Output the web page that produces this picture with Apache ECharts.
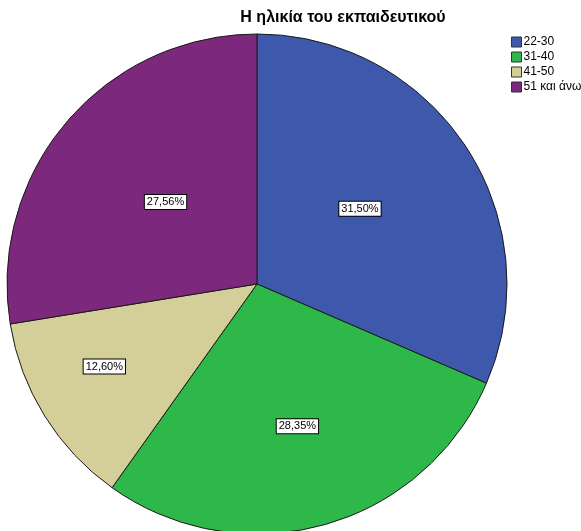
<!DOCTYPE html>
<html>
<head>
<meta charset="utf-8">
<script src="https://cdn.jsdelivr.net/npm/echarts@6/dist/echarts.min.js"></script>
<style>
  html, body { margin: 0; padding: 0; background: #fff; }
  #chart { width: 581px; height: 531px; }
</style>
</head>
<body>
<div id="chart"></div>
<script>
// Age groups of the teachers and their share in percent
const categories = ['22-30', '31-40', '41-50', '51 και άνω'];
const percentages = [31.50, 28.35, 12.60, 27.56];
const colors = ['#3e58ac', '#2eb84a', '#d4cf98', '#7c287c'];
// label nudges so the smaller slices carry their label nearer the rim
const labelOffsets = [[-4, -5], [6, 19], [-44, 15], [6, 1]];

const chart = echarts.init(document.getElementById('chart'), null, { renderer: 'canvas' });

chart.setOption({
  animation: false,
  backgroundColor: '#ffffff',
  title: {
    text: 'Η ηλικία του εκπαιδευτικού',
    left: 338,
    top: 5,
    textAlign: 'center',
    textStyle: {
      fontFamily: 'Liberation Sans, Arial, sans-serif',
      fontSize: 16,
      fontWeight: 'bold',
      color: '#000'
    }
  },
  legend: {
    orient: 'vertical',
    left: 506,
    top: 31,
    itemWidth: 10,
    itemHeight: 10,
    itemGap: 3,
    icon: 'rect',
    selectedMode: false,
    itemStyle: { borderColor: '#333', borderWidth: 1 },
    textStyle: {
      fontFamily: 'Liberation Sans, Arial, sans-serif',
      fontSize: 12,
      lineHeight: 12,
      color: '#000',
      padding: [0, 0, 0, -3]
    },
    data: categories
  },
  series: [{
    type: 'pie',
    center: [257, 284],
    radius: 250,
    startAngle: 90,
    clockwise: true,
    data: categories.map((name, i) => ({
      name: name,
      value: percentages[i],
      itemStyle: { color: colors[i] },
      label: { offset: labelOffsets[i] }
    })),
    itemStyle: { borderColor: '#1a1a1a', borderWidth: 1 },
    label: {
      show: true,
      position: 'inside',
      formatter: p => p.value.toFixed(2).replace('.', ',') + '%',
      fontFamily: 'Liberation Sans, Arial, sans-serif',
      fontSize: 11,
      color: '#000',
      backgroundColor: '#fff',
      borderColor: '#000',
      borderWidth: 1,
      padding: [2, 2, 1, 2]
    },
    labelLine: { show: false },
    emphasis: { disabled: true }
  }]
});
</script>
</body>
</html>
